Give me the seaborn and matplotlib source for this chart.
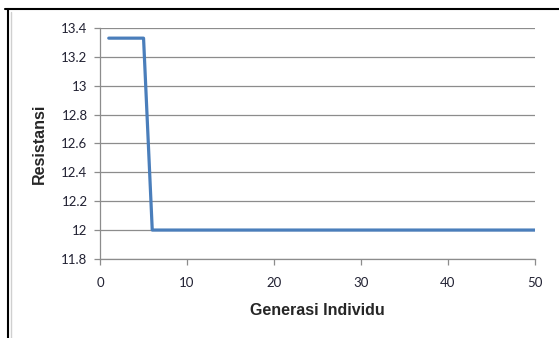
import numpy as np
import pandas as pd
import matplotlib
matplotlib.use("Agg")
import matplotlib.pyplot as plt
import seaborn as sns
from matplotlib.lines import Line2D

# data
generasi = list(range(1, 51))
resistansi = [13.33] * 5 + [12.0] * 45

x_ticks = [0, 10, 20, 30, 40, 50]
y_ticks = [11.8, 12.0, 12.2, 12.4, 12.6, 12.8, 13.0, 13.2, 13.4]
y_labels = ["11.8", "12", "12.2", "12.4", "12.6", "12.8", "13", "13.2", "13.4"]

df = pd.DataFrame({"Generasi Individu": generasi, "Resistansi": resistansi})

sns.set_style("white")
fig = plt.figure(figsize=(5.59, 3.38), dpi=100)
ax = fig.add_axes([0.179, 0.234, 0.778, 0.683])

sns.lineplot(data=df, x="Generasi Individu", y="Resistansi", ax=ax,
             color="#4a7ebb", linewidth=2.3)

ax.set_xlim(0, 50)
ax.set_ylim(11.8, 13.4)
ax.set_xticks(x_ticks)
ax.set_yticks(y_ticks)
ax.set_yticklabels(y_labels)

# horizontal gridlines only
ax.yaxis.grid(True, color="#8c8c8c", linewidth=0.9)
ax.xaxis.grid(False)
ax.set_axisbelow(True)

for side in ["top", "right"]:
    ax.spines[side].set_visible(False)
for side in ["left", "bottom"]:
    ax.spines[side].set_color("#8c8c8c")
    ax.spines[side].set_linewidth(0.9)

ax.tick_params(axis="both", direction="out", length=4, width=0.9,
               color="#8c8c8c", labelsize=9.5, labelcolor="#222233",
               left=True, bottom=True)
for lbl in ax.get_xticklabels() + ax.get_yticklabels():
    lbl.set_family("Lato")
ax.tick_params(axis="x", pad=9)
ax.tick_params(axis="y", pad=5)

ax.set_xlabel("Generasi Individu", fontsize=11.5, fontweight="bold",
              family="Liberation Sans", labelpad=10)
ax.set_ylabel("Resistansi", fontsize=11.5, fontweight="bold",
              family="Liberation Sans", labelpad=10)

# frame lines on top and left of the screenshot
fig.add_artist(Line2D([0.009, 1.0], [0.972, 0.972], color="black", linewidth=1.5,
                      transform=fig.transFigure))
fig.add_artist(Line2D([0.014, 0.014], [0.0, 0.972], color="black", linewidth=1.5,
                      transform=fig.transFigure))
fig.add_artist(Line2D([0.019, 0.019], [0.0, 0.965], color="#d0d0d0", linewidth=1.0,
                      transform=fig.transFigure))

fig.savefig("out.png", dpi=100)
